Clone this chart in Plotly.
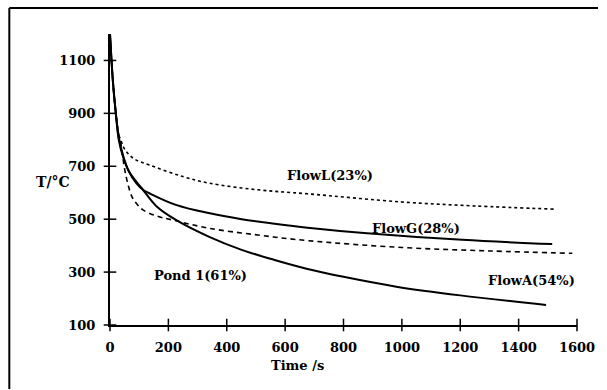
import plotly.graph_objects as go

# ---- data ----
flowL_t = [0, 10, 20, 30, 40, 50, 80, 135, 250, 340, 507, 677, 1000, 1250, 1520]
flowL_T = [1200, 1020, 900, 820, 790, 765, 730, 705, 661, 636, 611, 596, 565, 550, 538]

flowG_t = [0, 10, 20, 30, 45, 65, 90, 113, 135, 226, 338, 451, 564, 677, 870, 1207, 1515]
flowG_T = [1200, 1020, 900, 810, 740, 680, 636, 611, 598, 554, 523, 500, 483, 468, 448, 422, 406]

pond_t = [0, 10, 20, 30, 45, 65, 90, 113, 160, 226, 338, 451, 564, 677, 800, 981, 1200, 1494]
pond_T = [1200, 1020, 900, 800, 735, 680, 642, 611, 548, 497, 434, 384, 346, 312, 282, 245, 212, 176]

flowA_t = [0, 10, 20, 30, 38, 50, 62, 75, 90, 113, 160, 214, 338, 507, 677, 1000, 1300, 1584]
flowA_T = [1200, 1020, 900, 820, 780, 690, 630, 585, 560, 535, 512, 497, 466, 440, 419, 393, 380, 371]

x_ticks = [0, 200, 400, 600, 800, 1000, 1200, 1400, 1600]
y_ticks = [100, 300, 500, 700, 900, 1100]

labels = ["FlowL(23%)", "FlowG(28%)", "FlowA(54%)", "Pond 1(61%)"]
label_t = [754, 1049, 1445, 310]
label_T = [665, 463, 270, 289]

FONT = "DejaVu Serif"

fig = go.Figure()
fig.add_trace(go.Scatter(x=flowL_t, y=flowL_T, mode="lines", line=dict(color="black", width=1.6, dash="dot"),
                         line_shape="spline", name=labels[0]))
fig.add_trace(go.Scatter(x=flowG_t, y=flowG_T, mode="lines", line=dict(color="black", width=2),
                         line_shape="spline", name=labels[1]))
fig.add_trace(go.Scatter(x=flowA_t, y=flowA_T, mode="lines", line=dict(color="black", width=1.6, dash="5px,4px"),
                         line_shape="spline", name=labels[2]))
fig.add_trace(go.Scatter(x=pond_t, y=pond_T, mode="lines", line=dict(color="black", width=2),
                         line_shape="spline", name=labels[3]))

# cross-shaped tick marks
fig.add_trace(go.Scatter(x=[0] * len(y_ticks), y=y_ticks, mode="markers", cliponaxis=False,
                         marker=dict(symbol="line-ew", size=9, line=dict(color="black", width=1.5)),
                         hoverinfo="skip"))
fig.add_trace(go.Scatter(x=x_ticks, y=[100] * len(x_ticks), mode="markers", cliponaxis=False,
                         marker=dict(symbol="line-ns", size=9, line=dict(color="black", width=1.5)),
                         hoverinfo="skip"))

for txt, tx, ty in zip(labels, label_t, label_T):
    fig.add_annotation(x=tx, y=ty, text="<b>" + txt + "</b>", showarrow=False,
                       font=dict(family=FONT, size=13, color="black"))

fig.add_annotation(xref="paper", yref="paper", x=-0.163, y=0.49, text="<b>T/°C</b>", showarrow=False,
                   font=dict(family=FONT, size=14, color="black"))
fig.add_annotation(xref="paper", yref="paper", x=0.402, y=-0.172, text="<b>Time /s</b>", showarrow=False,
                   font=dict(family=FONT, size=13, color="black"))

# outer frame (top and left edges visible)
fig.add_shape(type="line", xref="paper", yref="paper", x0=-0.2156, x1=1.045, y0=1.089, y1=1.089,
              line=dict(color="black", width=2))
fig.add_shape(type="line", xref="paper", yref="paper", x0=-0.2156, x1=-0.2156, y0=1.089, y1=-0.22,
              line=dict(color="black", width=2))

fig.update_xaxes(range=[0, 1600], tickvals=x_ticks, ticktext=[f"<b>{v}</b>" for v in x_ticks],
                 showgrid=False, zeroline=False, showline=True, linecolor="black", linewidth=2,
                 ticks="", ticklabelstandoff=9,
                 tickfont=dict(family=FONT, size=13, color="black"))
fig.update_yaxes(range=[100, 1200], tickvals=y_ticks, ticktext=[f"<b>{v}</b>" for v in y_ticks],
                 showgrid=False, zeroline=False, showline=True, linecolor="black", linewidth=2,
                 ticks="", ticklabelstandoff=10,
                 tickfont=dict(family=FONT, size=13, color="black"))

fig.update_layout(width=607, height=390, margin=dict(l=110, r=24, t=34, b=65),
                  paper_bgcolor="white", plot_bgcolor="white", showlegend=False)

fig.write_html("out.html", config={"displayModeBar": False, "staticPlot": True},
               post_script="document.body.style.margin='0';document.body.style.overflow='hidden';")
